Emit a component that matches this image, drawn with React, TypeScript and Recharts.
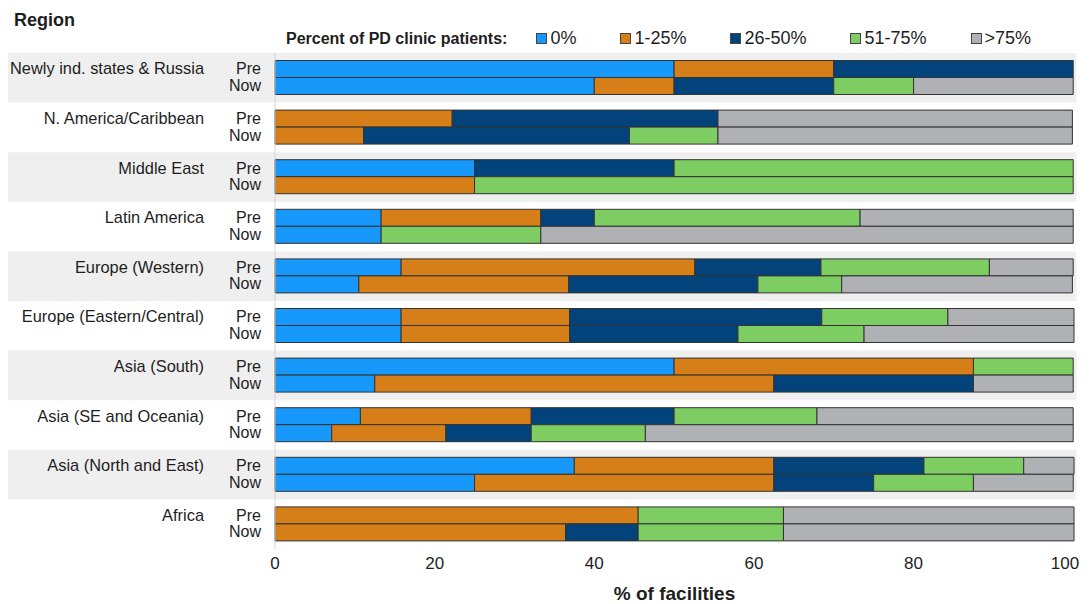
import * as React from "react";
import {
  BarChart,
  Bar,
  XAxis,
  YAxis,
  Legend,
  ReferenceArea,
} from "recharts";

const regions = [
  "Newly ind. states & Russia",
  "N. America/Caribbean",
  "Middle East",
  "Latin America",
  "Europe (Western)",
  "Europe (Eastern/Central)",
  "Asia (South)",
  "Asia (SE and Oceania)",
  "Asia (North and East)",
  "Africa",
];

const buckets = ["0%", "1-25%", "26-50%", "51-75%", ">75%"];
const colors = ["#1799fb", "#d67e18", "#02437b", "#7ecd63", "#b0b1b4"];

// Pre: share of facilities per bucket (%)
const pre0 = [50, 0, 25, 13.3, 15.8, 15.8, 50, 10.7, 37.5, 0];
const pre1 = [20, 22.2, 0, 20, 36.8, 21.1, 37.5, 21.4, 25, 45.5];
const pre2 = [30, 33.3, 25, 6.7, 15.8, 31.6, 0, 17.9, 18.8, 0];
const pre3 = [0, 0, 50, 33.3, 21.1, 15.8, 12.5, 17.9, 12.5, 18.2];
const pre4 = [0, 44.4, 0, 26.7, 10.5, 15.8, 0, 32.1, 6.3, 36.4];

// Now
const now0 = [40, 0, 0, 13.3, 10.5, 15.8, 12.5, 7.1, 25, 0];
const now1 = [10, 11.1, 25, 0, 26.3, 21.1, 50, 14.3, 37.5, 36.4];
const now2 = [20, 33.3, 0, 0, 23.7, 21.1, 25, 10.7, 12.5, 9.1];
const now3 = [10, 11.1, 75, 20, 10.5, 15.8, 0, 14.3, 12.5, 18.2];
const now4 = [20, 44.4, 0, 66.7, 28.9, 26.3, 12.5, 53.6, 12.5, 36.4];

const xTicks = [0, 20, 40, 60, 80, 100];
const shadedRegions = [0, 2, 4, 6, 8];

const preSets = [pre0, pre1, pre2, pre3, pre4];
const nowSets = [now0, now1, now2, now3, now4];

const data = regions.map((region, i) => {
  const row: Record<string, string | number> = { region };
  buckets.forEach((_, k) => {
    row[`pre${k}`] = preSets[k][i];
    row[`now${k}`] = nowSets[k][i];
  });
  return row;
});

const FONT = "'Liberation Sans', Arial, sans-serif";
const TEXT = "#1e1e1e";

function RegionTick({ x, y, payload }: any) {
  return (
    <g fontFamily={FONT} fontSize={16} fill={TEXT}>
      <text x={x - 71} y={y - 9} dy={5.6} textAnchor="end" fontSize={16.4}>
        {payload.value}
      </text>
      <text x={x - 14} y={y - 9} dy={5.6} textAnchor="end">
        Pre
      </text>
      <text x={x - 14} y={y + 7.5} dy={5.6} textAnchor="end">
        Now
      </text>
    </g>
  );
}

// keeps the last label ("100") inside the page edge
function PercentTick({ x, y, payload }: any) {
  const last = payload.value === xTicks[xTicks.length - 1];
  return (
    <text
      x={last ? x - 6 : x}
      y={y}
      dy="0.71em"
      textAnchor="middle"
      fontFamily={FONT}
      fontSize={17}
      fill={TEXT}
    >
      {payload.value}
    </text>
  );
}

function LegendContent() {
  return (
    <div
      style={{
        display: "flex",
        alignItems: "center",
        fontFamily: FONT,
        color: TEXT,
        whiteSpace: "nowrap",
      }}
    >
      <span style={{ fontWeight: "bold", fontSize: 16, marginRight: 29 }}>
        Percent of PD clinic patients:
      </span>
      {buckets.map((b, k) => (
        <span
          key={b}
          style={{ display: "flex", alignItems: "center", marginRight: 44 }}
        >
          <span
            style={{
              display: "inline-block",
              width: 9,
              height: 9,
              background: colors[k],
              border: "1px solid #444",
              marginRight: 3,
            }}
          />
          <span style={{ fontSize: 18 }}>{b}</span>
        </span>
      ))}
    </div>
  );
}

export default function App() {
  return (
    <div
      style={{
        position: "relative",
        width: 1075,
        height: 596,
        fontFamily: FONT,
      }}
    >
      <div
        style={{
          position: "absolute",
          left: 6,
          top: 2,
          fontSize: 18,
          fontWeight: "bold",
          color: TEXT,
        }}
      >
        Region
      </div>
      <BarChart
        width={1075}
        height={596}
        layout="vertical"
        data={data}
        margin={{ top: 45, right: 9, bottom: 0, left: 0 }}
        barCategoryGap={7.5}
        barGap={0}
      >
        {shadedRegions.map((i) => (
          <ReferenceArea
            key={regions[i]}
            y1={regions[i]}
            y2={regions[i]}
            x1={-33.5}
            x2={100.4}
            fill="#efefef"
            fillOpacity={1}
            stroke="none"
            ifOverflow="visible"
          />
        ))}
        <XAxis
          type="number"
          domain={[0, 100]}
          ticks={xTicks}
          axisLine={false}
          tickLine={false}
          height={55}
          tick={<PercentTick />}
          label={{
            value: "% of facilities",
            position: "insideBottom",
            offset: 4,
            fill: TEXT,
            fontSize: 19,
            fontWeight: "bold",
            fontFamily: FONT,
          }}
        />
        <YAxis
          type="category"
          dataKey="region"
          width={267}
          axisLine={{ stroke: "#d4d4d4" }}
          tickLine={false}
          tickSize={0}
          tickMargin={0}
          interval={0}
          tick={<RegionTick />}
        />
        <Legend
          layout="horizontal"
          verticalAlign="middle"
          align="center"
          content={<LegendContent />}
          wrapperStyle={{ top: 20, left: 278, width: 790 }}
        />
        {buckets.map((b, k) => (
          <Bar
            key={`pre${k}`}
            dataKey={`pre${k}`}
            name={b}
            stackId="pre"
            fill={colors[k]}
            stroke="#333"
            strokeWidth={1}
            isAnimationActive={false}
          />
        ))}
        {buckets.map((b, k) => (
          <Bar
            key={`now${k}`}
            dataKey={`now${k}`}
            name={b}
            stackId="now"
            fill={colors[k]}
            stroke="#333"
            strokeWidth={1}
            isAnimationActive={false}
          />
        ))}
      </BarChart>
    </div>
  );
}
